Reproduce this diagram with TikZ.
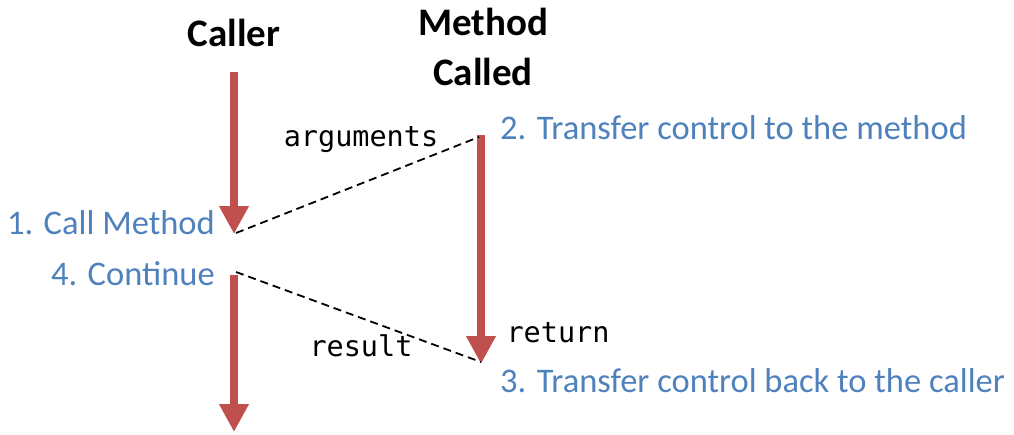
\documentclass[tikz,border=0pt]{standalone}
\usepackage{fontspec}
\setmainfont{Carlito}
\newfontfamily\codefont{DejaVu Sans Mono}
\usetikzlibrary{arrows.meta}
\definecolor{flowred}{HTML}{C0504D}
\definecolor{stepblue}{HTML}{4F81BD}
\tikzset{
  flow/.style={draw=flowred, line width=8pt,
    -{Triangle[width=28pt,length=28pt]}},
  handoff/.style={draw=black, line width=1.8pt, dash pattern=on 8pt off 5pt},
  heading/.style={font=\fontsize{39}{50}\selectfont\bfseries, align=center, inner sep=0pt},
  stepnote/.style={text=stepblue, font=\fontsize{34.5}{40}\selectfont, inner sep=0pt},
  codenote/.style={font=\codefont\fontsize{28.5}{32}\selectfont, inner sep=0pt}
}
\begin{document}
\begin{tikzpicture}[x=1pt,y=-1pt]
  \useasboundingbox (0,0) rectangle (1014,434);
  % column headings
  \node[heading] (caller) at (234,33) {Caller};
  \node[heading] (callee) at (483,47) {Method\\Called};
  % control-flow anchors
  \coordinate (c1s) at (234,72);
  \coordinate (c1e) at (234,234);
  \coordinate (c2s) at (234,275);
  \coordinate (c2e) at (234,432);
  \coordinate (m1s) at (481,135);
  \coordinate (m1e) at (481,364);
  % execution arrows
  \draw[flow] (c1s) -- (c1e);
  \draw[flow] (m1s) -- (m1e);
  \draw[flow] (c2s) -- (c2e);
  % hand-off lines
  \coordinate (callpt) at (236,233);
  \coordinate (entry) at (479,137);
  \coordinate (contpt) at (236,272);
  \coordinate (exit) at (481,362);
  \draw[handoff] (callpt) -- (entry);
  \draw[handoff] (contpt) -- (exit);
  % step labels
  \node[stepnote, anchor=east] (s1) at (215,223) {1. Call Method};
  \node[stepnote, anchor=west] (s2) at (500,128) {2. Transfer control to the method};
  \node[stepnote, anchor=west] (s3) at (500,381) {3. Transfer control back to the caller};
  \node[stepnote, anchor=east] (s4) at (215,274) {4. Continue};
  % data labels
  \node[codenote] (args) at (361,140) {arguments};
  \node[codenote] (ret) at (558,333) {return};
  \node[codenote] (res) at (361,346) {result};
\end{tikzpicture}
\end{document}
